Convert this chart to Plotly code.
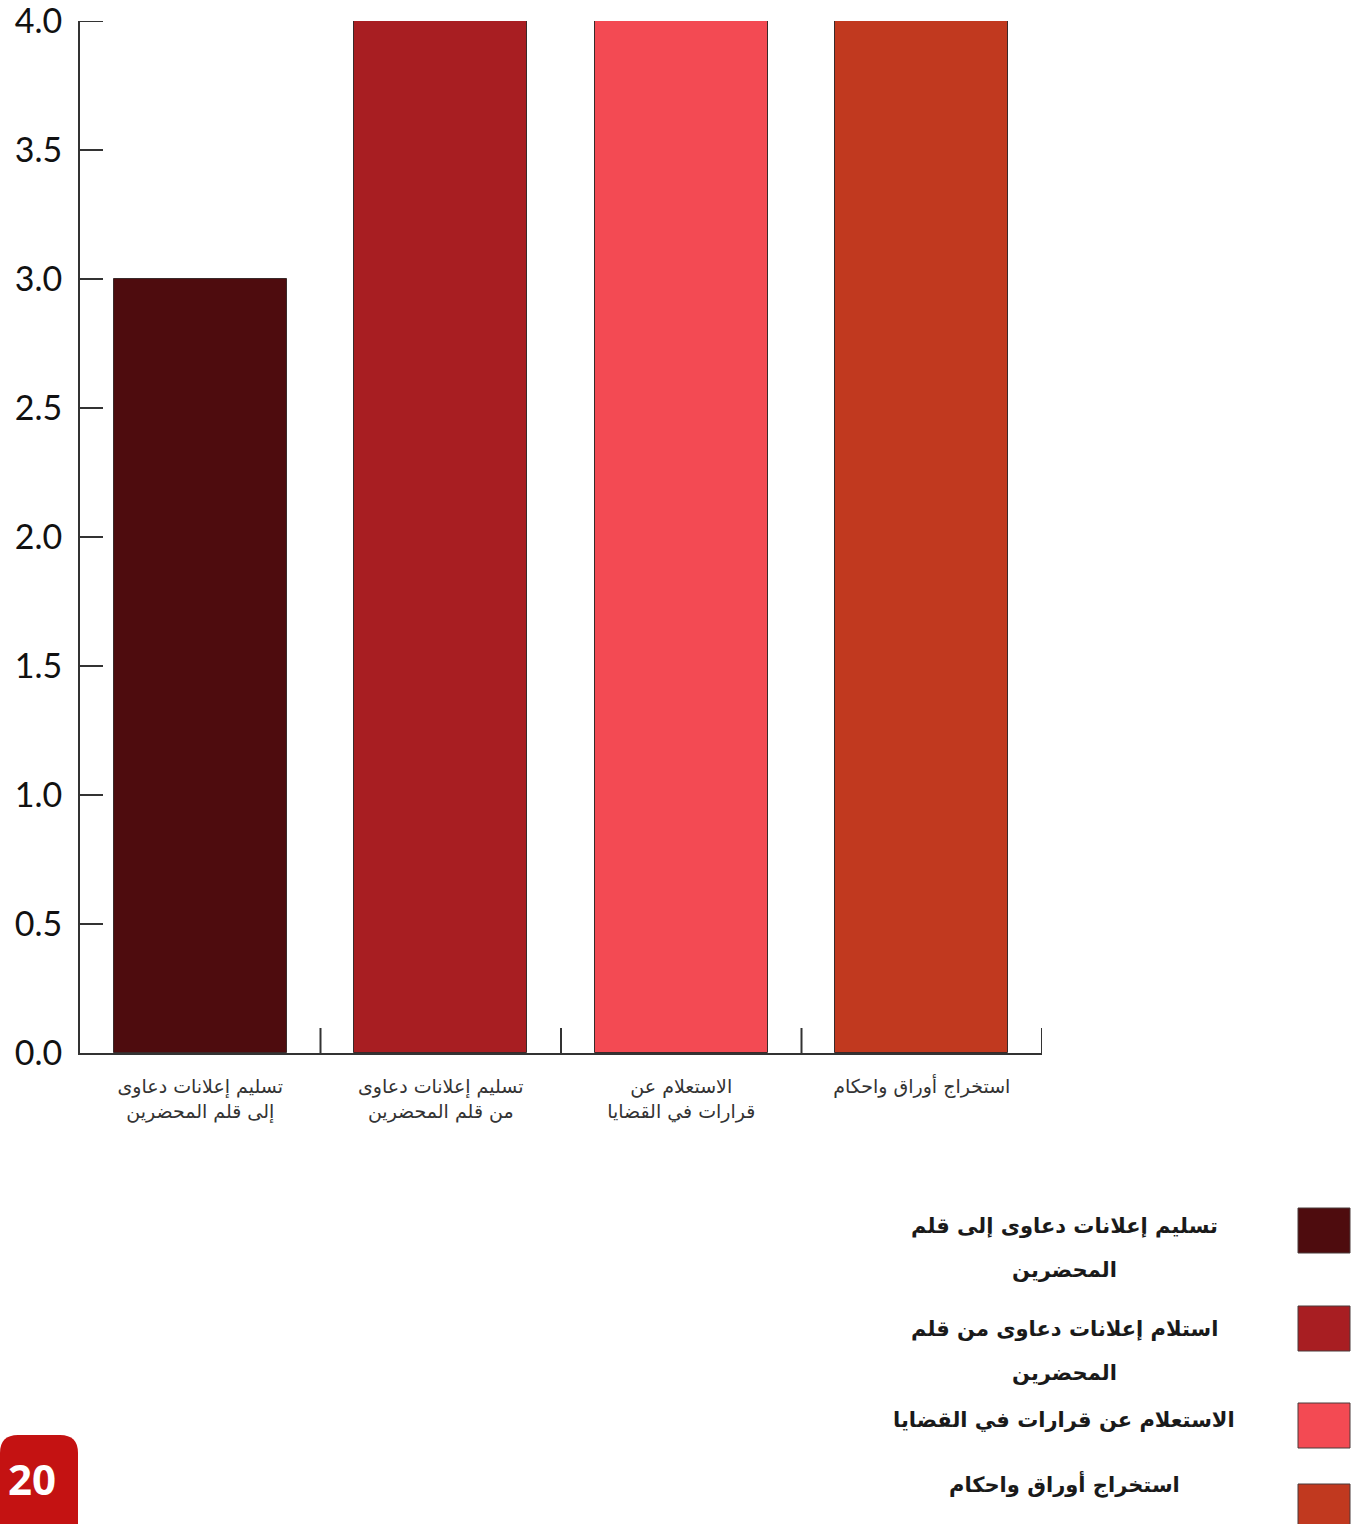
import plotly.graph_objects as go

# Service categories (x-axis labels) and their values
categories = [
    "تسليم إعلانات دعاوى<br>إلى قلم المحضرين",
    "تسليم إعلانات دعاوى<br>من قلم المحضرين",
    "الاستعلام عن<br>قرارات في القضايا",
    "استخراج أوراق واحكام",
]
values = [3, 4, 4, 4]
colors = ["#4E0C0E", "#A81E22", "#F34A53", "#C1391F"]

# Legend entries
legend_labels = [
    "تسليم إعلانات دعاوى إلى قلم<br>المحضرين",
    "استلام إعلانات دعاوى من قلم<br>المحضرين",
    "الاستعلام عن قرارات في القضايا",
    "استخراج أوراق واحكام",
]

y_ticks = [0.0, 0.5, 1.0, 1.5, 2.0, 2.5, 3.0, 3.5, 4.0]
page_number = "20"

W, H = 1355, 1524
L, R, T, B = 80, 313, 21, 471
PW, PH = W - L - R, H - T - B


def px_x(x):
    return (x - L) / PW


def px_y(y):
    return (H - B - y) / PH


fig = go.Figure()
fig.add_trace(go.Bar(
    x=list(range(len(categories))),
    y=values,
    width=0.72,
    marker=dict(color=colors, line=dict(color="#3a2a2a", width=1)),
    showlegend=False,
    hoverinfo="skip",
))

fig.update_xaxes(
    tickmode="array",
    tickvals=list(range(len(categories))),
    ticktext=categories,
    range=[-0.5, len(categories) - 0.5],
    showline=True, linecolor="#333333", linewidth=2,
    showgrid=False, zeroline=False, automargin=False,
    ticks="", ticklabelstandoff=15,
    tickfont=dict(family="DejaVu Sans", size=19, color="#333333"),
)
fig.update_yaxes(
    range=[0, 4],
    tickmode="array",
    tickvals=y_ticks,
    ticktext=[f"{v:.1f}" for v in y_ticks],
    showline=True, linecolor="#333333", linewidth=2,
    showgrid=False, zeroline=False, automargin=False,
    ticklabeloverflow="allow",
    ticks="inside", ticklen=23, tickwidth=2, tickcolor="#333333",
    ticklabelstandoff=9,
    tickfont=dict(family="Lato", size=34, color="#111111"),
)

shapes = []
# Tick mark at the top of the value axis
shapes.append(dict(
    type="line", xref="paper", yref="y",
    x0=0, x1=23 / PW, y0=y_ticks[-1], y1=y_ticks[-1],
    line=dict(color="#333333", width=2),
))
# Category boundary ticks along the bottom axis
for i in range(1, len(categories) + 1):
    shapes.append(dict(
        type="line", xref="x", yref="paper",
        x0=i - 0.5, x1=i - 0.5, y0=0, y1=25 / PH,
        line=dict(color="#333333", width=2),
    ))

# Legend swatches
sw_top = [1208, 1306, 1403, 1484]
for i in range(len(legend_labels)):
    shapes.append(dict(
        type="rect", xref="paper", yref="paper",
        x0=px_x(1298), x1=px_x(1350),
        y0=px_y(sw_top[i]), y1=px_y(sw_top[i] + 45),
        fillcolor=colors[i], line=dict(color="#4a3a3a", width=1),
    ))

# Legend labels, one annotation per text line
txt_first = [1226, 1329, 1420, 1484]
line_gap = 44
annotations = []
for i, lab in enumerate(legend_labels):
    for j, part in enumerate(lab.split("<br>")):
        annotations.append(dict(
            xref="paper", yref="paper",
            x=px_x(1064), y=px_y(txt_first[i] + j * line_gap),
            text=f"<b>{part}</b>", showarrow=False,
            xanchor="center", yanchor="middle", align="center",
            font=dict(family="DejaVu Sans", size=21, color="#1a1a1a"),
        ))

# Page number badge
r = 18
x0, x1, y0, y1 = 0, 78, 1435, 1540
path = (
    f"M {px_x(x0)},{px_y(y1)} L {px_x(x0)},{px_y(y0 + r)} "
    f"Q {px_x(x0)},{px_y(y0)} {px_x(x0 + r)},{px_y(y0)} "
    f"L {px_x(x1 - r)},{px_y(y0)} "
    f"Q {px_x(x1)},{px_y(y0)} {px_x(x1)},{px_y(y0 + r)} "
    f"L {px_x(x1)},{px_y(y1)} Z"
)
shapes.append(dict(type="path", xref="paper", yref="paper", path=path,
                   fillcolor="#C41212", line=dict(width=0)))
annotations.append(dict(
    xref="paper", yref="paper", x=px_x(32), y=px_y(1478),
    text=f"<b>{page_number}</b>", showarrow=False,
    xanchor="center", yanchor="middle",
    font=dict(family="Open Sans", size=42, color="white"),
))

fig.update_layout(
    width=W, height=H,
    margin=dict(l=L, r=R, t=T, b=B),
    paper_bgcolor="white", plot_bgcolor="white",
    shapes=shapes, annotations=annotations,
    bargap=0,
)

fig.write_html("out.html")
